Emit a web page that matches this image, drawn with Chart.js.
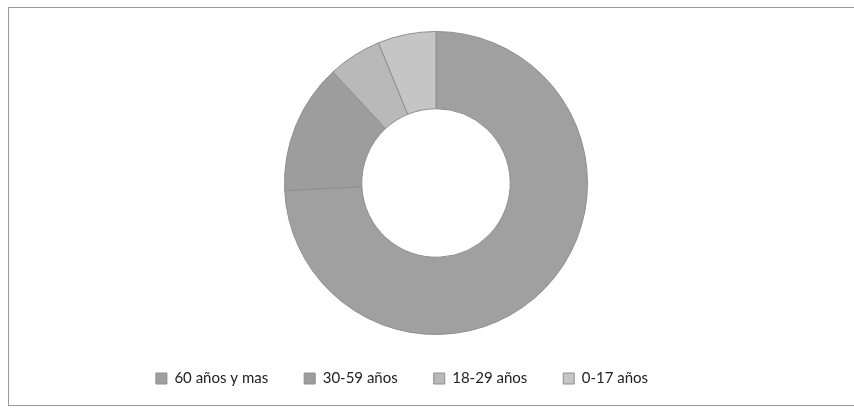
<!DOCTYPE html>
<html>
<head>
<meta charset="utf-8">
<script src="https://cdn.jsdelivr.net/npm/chart.js@4"></script>
<style>
  html, body { margin: 0; padding: 0; background: #fff; overflow: hidden; }
  #frame {
    position: absolute; left: 8px; top: 7px; width: 860px; height: 397px;
    border: 1px solid #9a9a9a;
  }
  #wrap { position: absolute; left: 0; top: 0; width: 854px; height: 411px; }
</style>
</head>
<body>
<div id="frame"></div>
<div id="wrap"><canvas id="chart"></canvas></div>
<script>
const labels = ['60 años y mas', '30-59 años', '18-29 años', '0-17 años'];
const shares = [74.2, 13.9, 5.7, 6.2];
const colors = ['#a0a0a0', '#9d9d9d', '#b9b9b9', '#c5c5c5'];

// legend sits a bit left of the doughnut in the original
const shiftLegend = {
    id: 'shiftLegend',
    afterLayout(chart) {
        const lg = chart.legend;
        if (!lg) return;
        lg.left -= 34;
        lg.right -= 34;
    }
};

new Chart(document.getElementById('chart'), {
    type: 'doughnut',
    data: {
        labels,
        datasets: [{
            data: shares,
            backgroundColor: colors,
            borderColor: '#8e8e8e',
            borderWidth: 1
        }]
    },
    options: {
        responsive: true,
        maintainAspectRatio: false,
        animation: false,
        cutout: '49%',
        layout: { padding: { top: 31, bottom: 15, left: 18, right: 0 } },
        plugins: {
            tooltip: { enabled: false },
            legend: {
                position: 'bottom',
                labels: {
                    font: { family: 'Lato', size: 15 },
                    color: '#222',
                    boxWidth: 11,
                    boxHeight: 11,
                    padding: 36
                }
            }
        }
    },
    plugins: [shiftLegend]
});
</script>
</body>
</html>
